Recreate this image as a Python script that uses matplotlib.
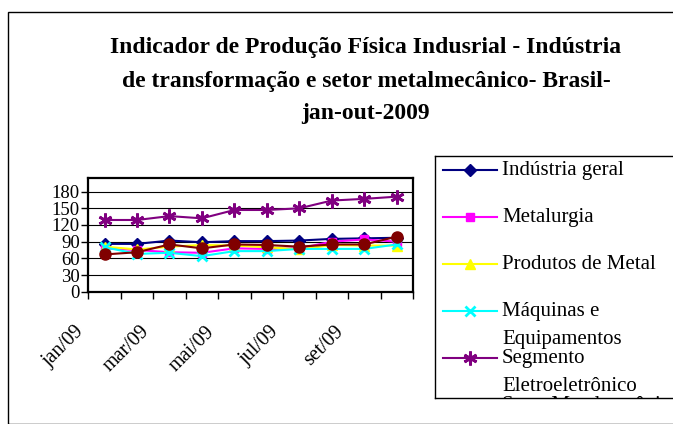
import matplotlib
matplotlib.use("Agg")
import matplotlib.pyplot as plt
from matplotlib.patches import Rectangle
from matplotlib.lines import Line2D

# dados (indice, jan-out 2009)
meses = ["jan/09", "fev/09", "mar/09", "abr/09", "mai/09",
         "jun/09", "jul/09", "ago/09", "set/09", "out/09"]
industria_geral = [86, 86, 92, 89, 91, 91, 92, 95, 96, 97]
metalurgia = [78, 75, 71, 70, 78, 77, 78, 90, 94, 90]
produtos_metal = [81, 76, 81, 84, 83, 80, 76, 84, 83, 83]
maquinas = [80, 68, 70, 64, 73, 73, 77, 77, 77, 85]
eletroeletronico = [129, 129, 136, 132, 147, 147, 150, 164, 167, 171]
metalmecanico = [67, 71, 85, 78, 85, 84, 81, 85, 85, 99]

series = [
    ("Indústria geral", industria_geral, "#000080", "D", 6),
    ("Metalurgia", metalurgia, "#FF00FF", "s", 6),
    ("Produtos de Metal", produtos_metal, "#FFFF00", "^", 7),
    ("Máquinas e\nEquipamentos", maquinas, "#00FFFF", "x", 7),
    ("Segmento\nEletroeletrônico", eletroeletronico, "#800080", (6, 2, 0), 10),
    ("Setor Metalmecânico", metalmecanico, "#800000", "o", 8),
]

plt.rcParams["font.family"] = ["Liberation Serif", "DejaVu Serif"]

W, H = 673, 424
fig = plt.figure(figsize=(W / 100, H / 100), dpi=100)

# moldura externa
fig.patches.append(Rectangle((8 / W, 0), 2, 1 - 12 / H, transform=fig.transFigure,
                             fill=False, edgecolor="black", linewidth=1))

titulo = ["Indicador de Produção Física Indusrial - Indústria",
          "de transformação e setor metalmecânico- Brasil-",
          "jan-out-2009"]
for yy, linha in zip([47, 81, 114], titulo):
    fig.text(366 / W, 1 - yy / H, linha, ha="center", va="center",
             fontsize=17, fontweight="bold")

# area do grafico
ax = fig.add_axes([88.3 / W, 1 - 291.7 / H, (413 - 88.3) / W, (291.7 - 178.3) / H])
x = list(range(len(meses)))
for nome, vals, cor, mk, ms in series:
    ax.plot(x, vals, color=cor, marker=mk, markersize=ms, linewidth=1.5,
            markeredgewidth=2 if mk in ("x", (6, 2, 0)) else 1,
            markeredgecolor=cor, markerfacecolor=cor, clip_on=False)

ax.set_xlim(-0.5, len(meses) - 0.5)
ax.set_ylim(0, 204)
ax.set_yticks(range(0, 181, 30))
ax.yaxis.grid(True, color="black", linewidth=0.8)
ax.set_axisbelow(True)
# ticks nas divisas entre meses; rotulo (mes sim, mes nao) termina na divisa
divisas = [i - 0.5 for i in range(len(meses) + 1)]
rotulos = [meses[i] if i < len(meses) and i % 2 == 0 else "" for i in range(len(divisas))]
ax.set_xticks(divisas)
ax.set_xticklabels(rotulos, rotation=45, ha="right", va="top")
ax.tick_params(axis="x", direction="out", length=5, width=1, pad=17, labelsize=14.5)
ax.tick_params(axis="y", direction="out", length=5, width=1, labelsize=13.5, pad=1)
for s in ax.spines.values():
    s.set_linewidth(1.6)

# legenda desenhada a mao (cortada embaixo como no original)
lax = fig.add_axes([435 / W, 1 - 398 / H, (700 - 435) / W, (398 - 156) / H])
lax.set_xlim(435, 700)
lax.set_ylim(398, 156)
lax.set_xticks([])
lax.set_yticks([])
for s in lax.spines.values():
    s.set_linewidth(1)
for i, (nome, vals, cor, mk, ms) in enumerate(series):
    y0 = 170 + i * 47
    lax.add_line(Line2D([443, 497], [y0, y0], color=cor, linewidth=1.5, clip_on=True))
    lax.plot([470], [y0], marker=mk, markersize=ms, color=cor, markeredgecolor=cor,
             markeredgewidth=2 if mk in ("x", (6, 2, 0)) else 1, clip_on=True)
    for k, linha in enumerate(nome.split("\n")):
        lax.text(502, y0 + k * 28 + 5, linha, fontsize=15, va="baseline", ha="left",
                 clip_on=True)

fig.savefig("out.png", dpi=100)
